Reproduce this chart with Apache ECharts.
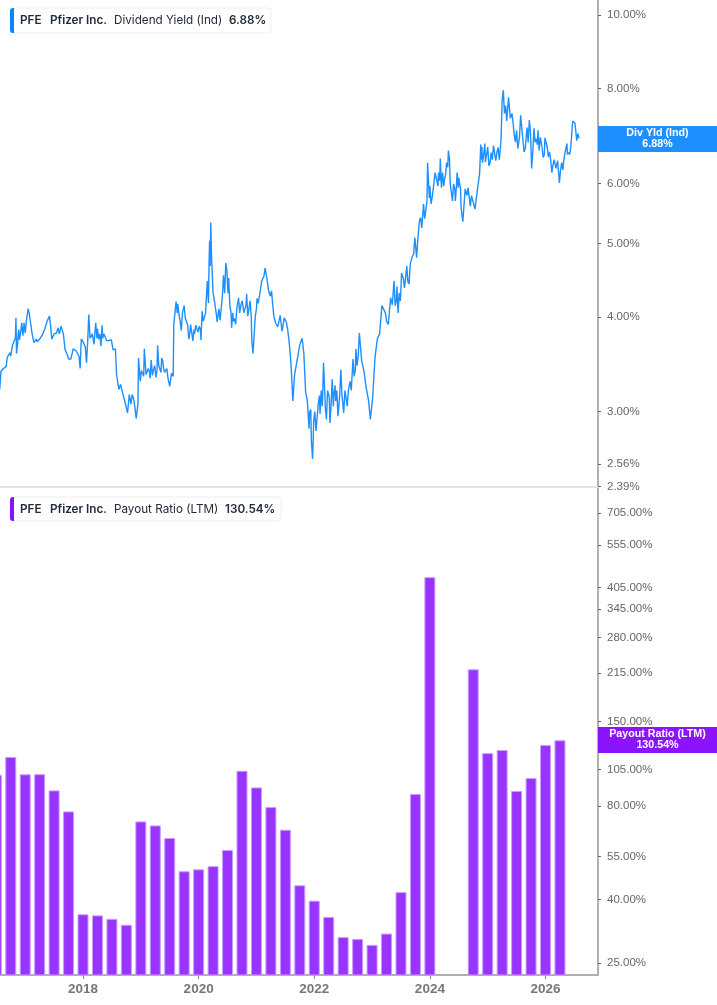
<!DOCTYPE html>
<html lang="en">
<head>
    <meta charset="UTF-8">
    <title>PFE Dividend Yield and Payout Ratio</title>
    <script src="https://cdn.jsdelivr.net/npm/echarts@6/dist/echarts.min.js"></script>
    <style>
        *{ padding: 0; margin: 0; }
        body{ background: #fff; }
        #chart{ width: 717px; height: 1005px; }
    </style>
</head>
<body>
<div id="chart"></div>
<script>
    // x positions are decimal years
    var yearMin = 2016.564;
    var yearMax = 2026.908;
    var yearTicks = [2018, 2020, 2022, 2024, 2026];
    var yieldTicks = [2.39, 2.56, 3, 4, 5, 6, 7, 8, 10];
    var payoutTicks = [25, 40, 55, 80, 105, 150, 215, 280, 345, 405, 555, 705];

    // dividend yield (%)
    var yieldPoints = [
        [2016.56,3.21],[2016.58,3.39],[2016.62,3.42],[2016.67,3.44],[2016.69,3.54],[2016.71,3.53],[2016.74,3.59],[2016.75,3.55],
        [2016.78,3.67],[2016.81,3.72],[2016.84,3.99],[2016.85,3.58],[2016.88,3.81],[2016.90,3.73],[2016.92,3.81],[2016.94,3.93],
        [2016.98,3.93],[2017.00,3.81],[2017.05,4.10],[2017.08,3.99],[2017.12,3.80],[2017.15,3.70],[2017.19,3.74],[2017.21,3.71],
        [2017.26,3.75],[2017.30,3.79],[2017.34,3.86],[2017.38,3.95],[2017.42,4.01],[2017.44,3.89],[2017.46,3.74],[2017.50,3.80],
        [2017.54,3.81],[2017.57,3.87],[2017.59,3.80],[2017.62,3.89],[2017.66,3.80],[2017.69,3.62],[2017.72,3.58],[2017.75,3.52],
        [2017.79,3.52],[2017.83,3.63],[2017.88,3.61],[2017.93,3.55],[2017.95,3.42],[2017.97,3.74],[2018.00,3.71],[2018.04,3.65],
        [2018.06,3.48],[2018.10,4.03],[2018.12,3.75],[2018.16,3.80],[2018.19,3.68],[2018.22,3.93],[2018.25,3.86],[2018.27,3.74],
        [2018.31,3.66],[2018.33,3.90],[2018.36,3.80],[2018.41,3.72],[2018.44,3.74],[2018.49,3.73],[2018.52,3.62],[2018.56,3.63],
        [2018.58,3.36],[2018.62,3.21],[2018.65,3.26],[2018.70,3.14],[2018.73,3.08],[2018.77,2.99],[2018.80,3.16],[2018.83,3.07],
        [2018.85,3.16],[2018.89,3.07],[2018.92,2.94],[2018.95,3.07],[2018.96,3.53],[2018.99,3.29],[2019.03,3.41],[2019.05,3.34],
        [2019.06,3.63],[2019.09,3.36],[2019.13,3.42],[2019.16,3.32],[2019.18,3.51],[2019.22,3.41],[2019.26,3.33],[2019.29,3.67],
        [2019.32,3.46],[2019.36,3.53],[2019.39,3.44],[2019.43,3.37],[2019.47,3.32],[2019.50,3.24],[2019.53,3.37],[2019.56,3.34],
        [2019.57,3.91],[2019.61,4.19],[2019.64,4.16],[2019.66,4.03],[2019.70,3.84],[2019.75,4.14],[2019.79,3.95],[2019.83,3.74],
        [2019.86,3.91],[2019.90,3.72],[2019.93,3.80],[2019.97,3.89],[2020.01,3.89],[2020.04,3.73],[2020.06,4.07],[2020.10,3.97],
        [2020.13,4.20],[2020.15,4.46],[2020.17,4.17],[2020.19,5.04],[2020.20,4.67],[2020.21,5.33],[2020.23,4.67],[2020.25,4.30],
        [2020.28,4.17],[2020.31,4.01],[2020.32,3.94],[2020.35,4.10],[2020.37,3.96],[2020.41,4.26],[2020.43,4.54],[2020.44,4.53],
        [2020.47,4.71],[2020.50,4.39],[2020.52,4.50],[2020.54,4.14],[2020.57,3.87],[2020.60,3.95],[2020.64,3.91],[2020.69,4.24],
        [2020.73,4.14],[2020.76,4.17],[2020.80,4.07],[2020.83,4.29],[2020.85,4.01],[2020.89,4.20],[2020.92,3.72],[2020.94,3.58],
        [2020.98,4.01],[2021.01,4.23],[2021.03,4.17],[2021.07,4.26],[2021.09,4.46],[2021.13,4.53],[2021.15,4.64],[2021.18,4.50],
        [2021.21,4.33],[2021.24,4.26],[2021.26,4.33],[2021.30,4.01],[2021.33,3.93],[2021.37,3.88],[2021.41,4.02],[2021.44,3.83],
        [2021.48,3.99],[2021.52,3.93],[2021.56,3.74],[2021.58,3.61],[2021.60,3.44],[2021.63,3.10],[2021.66,3.36],[2021.71,3.53],
        [2021.75,3.68],[2021.79,3.75],[2021.82,3.58],[2021.85,3.19],[2021.88,3.10],[2021.91,2.85],[2021.94,3.02],[2021.97,2.60],
        [2021.99,2.92],[2022.03,2.83],[2022.07,3.08],[2022.10,2.98],[2022.16,3.48],[2022.21,2.93],[2022.26,3.13],[2022.27,2.90],
        [2022.31,3.31],[2022.34,3.16],[2022.37,3.10],[2022.41,2.96],[2022.46,3.41],[2022.51,2.99],[2022.55,3.13],[2022.57,3.05],
        [2022.62,3.29],[2022.67,3.52],[2022.69,3.34],[2022.72,3.63],[2022.78,3.81],[2022.82,3.50],[2022.86,3.39],[2022.90,3.22],
        [2022.94,3.10],[2022.97,2.93],[2023.01,3.13],[2023.05,3.53],[2023.09,3.74],[2023.13,3.80],[2023.17,4.14],[2023.23,4.05],
        [2023.28,3.91],[2023.32,4.24],[2023.38,4.46],[2023.40,4.14],[2023.43,4.39],[2023.45,4.05],[2023.51,4.57],[2023.56,4.37],
        [2023.60,4.67],[2023.64,4.42],[2023.69,4.79],[2023.74,5.09],[2023.77,4.79],[2023.82,5.36],[2023.84,5.41],[2023.86,5.24],
        [2023.89,5.64],[2023.91,5.39],[2023.95,5.69],[2023.96,6.39],[2023.99,5.74],[2024.02,5.64],[2024.06,5.92],[2024.09,6.20],
        [2024.12,6.05],[2024.15,6.20],[2024.18,6.47],[2024.20,5.92],[2024.25,6.05],[2024.29,6.39],[2024.32,6.63],[2024.35,6.01],
        [2024.39,5.69],[2024.41,5.99],[2024.44,5.69],[2024.47,6.20],[2024.49,5.92],[2024.51,6.09],[2024.54,5.57],[2024.57,5.34],
        [2024.61,5.90],[2024.64,5.78],[2024.66,5.92],[2024.70,5.60],[2024.72,5.78],[2024.78,5.55],[2024.82,5.87],[2024.86,6.18],
        [2024.88,6.75],[2024.91,6.39],[2024.95,6.77],[2024.98,6.43],[2025.02,6.33],[2025.06,6.59],[2025.10,6.73],[2025.14,6.43],
        [2025.18,6.69],[2025.23,6.83],[2025.25,7.72],[2025.27,7.96],[2025.29,7.42],[2025.36,7.79],[2025.39,7.31],[2025.42,7.42],
        [2025.46,6.94],[2025.50,7.05],[2025.52,6.67],[2025.57,7.38],[2025.61,6.83],[2025.65,6.67],[2025.68,7.11],[2025.72,7.27],
        [2025.76,6.28],[2025.80,7.09],[2025.84,6.87],[2025.87,7.05],[2025.89,6.63],[2025.93,6.87],[2025.96,6.49],[2025.99,6.89],
        [2026.03,6.69],[2026.09,6.43],[2026.11,6.20],[2026.15,6.45],[2026.18,6.28],[2026.21,6.43],[2026.24,6.01],[2026.28,6.39],
        [2026.32,6.47],[2026.37,6.77],[2026.40,6.59],[2026.44,6.73],[2026.47,7.25],[2026.51,7.20],[2026.54,6.83],[2026.56,6.98],
        [2026.58,6.88]
    ];

    // finer readings where the line is a thick band
    var yieldDetail = [
        [2016.77,3.55],[2016.83,3.75],[2016.87,3.70],[2016.89,3.85],[2016.96,3.78],[2017.02,3.95],[2017.07,4.05],
        [2018.08,3.70],[2018.11,3.90],[2018.18,3.72],[2018.24,3.75],[2018.29,3.80],[2018.34,3.75],[2018.82,3.10],[2018.87,3.13],
        [2019.01,3.40],[2019.08,3.45],[2019.11,3.35],[2019.15,3.38],[2019.20,3.35],[2019.24,3.45],[2019.28,3.40],[2019.31,3.45],
        [2019.35,3.38],[2019.38,3.50],[2019.41,3.38],[2019.45,3.42],[2019.49,3.33],[2019.63,4.05],[2019.68,3.95],[2019.72,4.05],
        [2019.77,3.98],[2019.81,3.90],[2019.85,3.82],[2019.88,3.82],[2019.92,3.85],[2019.95,3.90],[2019.99,3.82],[2020.03,3.85],
        [2020.08,3.95],[2020.12,4.05],[2020.18,4.70],[2020.22,4.90],[2020.45,4.30],[2020.49,4.60],[2020.51,4.30],[2020.56,4.05],
        [2020.59,4.05],[2020.62,3.98],[2020.66,4.10],[2020.71,4.05],[2020.75,4.20],[2020.78,4.05],[2020.82,4.15],[2020.87,4.10],
        [2020.91,4.00],[2021.00,4.10],[2021.05,4.25],[2021.39,3.95],[2021.43,3.90],[2021.46,3.90],[2021.50,3.98],[2021.54,3.85],
        [2021.92,3.00],[2021.95,2.75],[2021.98,2.72],[2022.01,3.00],[2022.05,2.95],[2022.09,3.15],[2022.12,3.20],[2022.14,3.05],
        [2022.18,3.20],[2022.19,3.05],[2022.23,3.20],[2022.29,3.05],[2022.33,3.05],[2022.36,3.25],[2022.39,3.20],[2022.44,3.15],
        [2022.48,3.15],[2022.53,3.20],[2022.59,3.20],[2022.64,3.20],[2022.71,3.40],[2022.74,3.45],[2022.76,3.55],[2022.80,3.65],
        [2023.25,3.95],[2023.35,4.15],[2023.42,4.20],[2023.47,4.30],[2023.49,4.20],[2023.54,4.50],[2023.58,4.50],[2023.62,4.45],
        [2023.66,4.70],[2023.72,4.85],[2023.79,5.05],[2024.00,5.95],[2024.04,5.75],[2024.08,5.95],[2024.11,6.20],[2024.14,5.95],
        [2024.17,6.05],[2024.22,6.20],[2024.24,5.95],[2024.27,6.15],[2024.31,6.30],[2024.34,6.45],[2024.37,5.85],[2024.40,5.85],
        [2024.43,5.90],[2024.46,5.95],[2024.48,6.10],[2024.50,6.10],[2024.53,5.90],[2024.89,6.45],[2024.90,6.70],[2024.93,6.55],
        [2024.96,6.40],[2025.00,6.70],[2025.04,6.38],[2025.08,6.45],[2025.12,6.75],[2025.16,6.60],[2025.20,6.45],[2025.31,7.60],
        [2025.33,7.25],[2025.38,7.50],[2025.44,7.20],[2025.48,6.80],[2025.55,6.90],[2025.59,7.10],[2025.63,6.60],[2025.70,6.80],
        [2025.74,7.00],[2025.78,6.60],[2025.82,6.80],[2025.86,6.75],[2025.91,6.90],[2025.94,6.70],[2025.98,6.55],[2026.01,6.85],
        [2026.05,6.50],[2026.07,6.60],[2026.13,6.35],[2026.17,6.45],[2026.20,6.25],[2026.26,6.25],[2026.30,6.25],[2026.34,6.60],
        [2026.38,6.55],[2026.42,6.55]
    ];

    // quarter ends, payout ratio (%)
    var payoutYears = [
        2016.5, 2016.75, 2017, 2017.25, 2017.5, 2017.75, 2018, 2018.25, 2018.5, 2018.75,
        2019, 2019.25, 2019.5, 2019.75, 2020, 2020.25, 2020.5, 2020.75, 2021, 2021.25,
        2021.5, 2021.75, 2022, 2022.25, 2022.5, 2022.75, 2023, 2023.25, 2023.5, 2023.75,
        2024, 2024.25, 2024.5, 2024.75, 2025, 2025.25, 2025.5, 2025.75, 2026, 2026.25
    ];
    var payoutValues = [
        101.1, 115.3, 101.4, 101.5, 90.0, 77.0, 35.9, 35.6, 34.7, 33.2,
        71.5, 69.4, 63.2, 49.4, 50.1, 51.3, 57.8, 104.1, 92.0, 79.5,
        67.2, 44.5, 39.7, 35.2, 30.3, 29.9, 28.6, 31.1, 42.3, 87.6,
        438, null, null, 221, 118.7, 121.4, 89.6, 98.6, 126, 130.54
    ];

    var axisColor = '#b0b0b0';
    var labelColor = '#666';
    var blue = '#1e8fff';
    var purple = '#9933ff';

    function pctLabel(v) {
        return Number(v).toFixed(2) + '%';
    }

    function chip(top, height, width, barColor, parts) {
        var items = [{
            type: 'rect', z: 100,
            shape: { x: 10, y: top, width: width, height: height, r: 3 },
            style: { fill: '#fff', stroke: '#eeeeee', lineWidth: 1 }
        }, {
            type: 'rect', z: 101,
            shape: { x: 10, y: top, width: 4, height: height, r: [3, 0, 0, 3] },
            style: { fill: barColor }
        }];
        parts.forEach(function (p) {
            items.push({
                type: 'text', z: 101, x: p[0], y: top + height / 2,
                style: {
                    text: p[1], fill: '#222b3a', verticalAlign: 'middle',
                    font: p[2] + ' 11.7px Inter'
                }
            });
        });
        return items;
    }

    function tag(top, color, line1, line2) {
        return [{
            type: 'rect', z: 100,
            shape: { x: 598, y: top, width: 119, height: 26 },
            style: { fill: color }
        }, {
            type: 'text', z: 101, x: 657.5, y: top + 7.5,
            style: { text: line1, fill: '#fff', align: 'center', verticalAlign: 'middle', font: 'bold 10.7px "Liberation Sans"' }
        }, {
            type: 'text', z: 101, x: 657.5, y: top + 18.5,
            style: { text: line2, fill: '#fff', align: 'center', verticalAlign: 'middle', font: 'bold 10.7px "Liberation Sans"' }
        }];
    }

    function yAxisFor(gridIndex, min, max, ticks) {
        return {
            type: 'log', gridIndex: gridIndex, position: 'right', min: min, max: max,
            axisLine: { show: true, onZero: false, lineStyle: { color: axisColor, width: 2 } },
            axisTick: { show: true, length: 3, customValues: ticks, lineStyle: { color: '#666' } },
            axisLabel: {
                customValues: ticks, margin: 9, color: labelColor, fontSize: 11.5, padding: [2, 0, 0, 0],
                fontFamily: 'Liberation Sans', formatter: pctLabel, showMinLabel: true, showMaxLabel: true
            },
            splitLine: { show: false }, minorTick: { show: false }, minorSplitLine: { show: false }
        };
    }

    var allYield = yieldPoints.concat(yieldDetail).sort(function (a, b) { return a[0] - b[0]; });

    var my_chart = echarts.init(document.getElementById('chart'));
    my_chart.setOption({
        backgroundColor: '#fff',
        animation: false,
        grid: [
            { left: 0, top: 0, width: 598, height: 487 },
            { left: 0, top: 487, width: 598, height: 488 }
        ],
        xAxis: [{
            type: 'value', gridIndex: 0, min: yearMin, max: yearMax,
            axisLine: { show: true, onZero: false, lineStyle: { color: '#e2e2e2', width: 2 } },
            axisTick: { show: false }, axisLabel: { show: false }, splitLine: { show: false }
        }, {
            type: 'value', gridIndex: 1, min: yearMin, max: yearMax,
            axisLine: { show: true, onZero: false, lineStyle: { color: axisColor, width: 2 } },
            axisTick: { show: true, length: 4, customValues: yearTicks, lineStyle: { color: '#888' } },
            axisLabel: {
                customValues: yearTicks, margin: 7, color: '#777', fontSize: 13.5, fontWeight: 'bold',
                fontFamily: 'Liberation Sans', formatter: function (v) { return String(v); }
            },
            splitLine: { show: false }
        }],
        yAxis: [
            yAxisFor(0, 2.387, 10.47, yieldTicks),
            yAxisFor(1, 22.87, 855, payoutTicks)
        ],
        series: [{
            name: 'Dividend Yield (Ind)', type: 'line', xAxisIndex: 0, yAxisIndex: 0,
            data: allYield, showSymbol: false, symbol: 'none',
            lineStyle: { color: blue, width: 1.4 }
        }, {
            name: 'Payout Ratio (LTM)', type: 'bar', xAxisIndex: 1, yAxisIndex: 1,
            data: payoutYears.map(function (y, i) { return [y, payoutValues[i]]; }),
            barWidth: 11,
            itemStyle: { color: purple, borderColor: '#c99dff', borderWidth: 1 }
        }],
        graphic: [].concat(
            chip(8, 25, 261, '#0a84ff', [[20, 'PFE', '600'], [50, 'Pfizer Inc.', '600'], [114, 'Dividend Yield (Ind)', '400'], [229, '6.88%', '600']]),
            chip(497, 24, 271, '#8414fb', [[20, 'PFE', '600'], [50, 'Pfizer Inc.', '600'], [114, 'Payout Ratio (LTM)', '400'], [225, '130.54%', '600']]),
            tag(126, '#1e8fff', 'Div Yld (Ind)', '6.88%'),
            tag(727, '#8c14fc', 'Payout Ratio (LTM)', '130.54%')
        )
    });
</script>
</body>
</html>
